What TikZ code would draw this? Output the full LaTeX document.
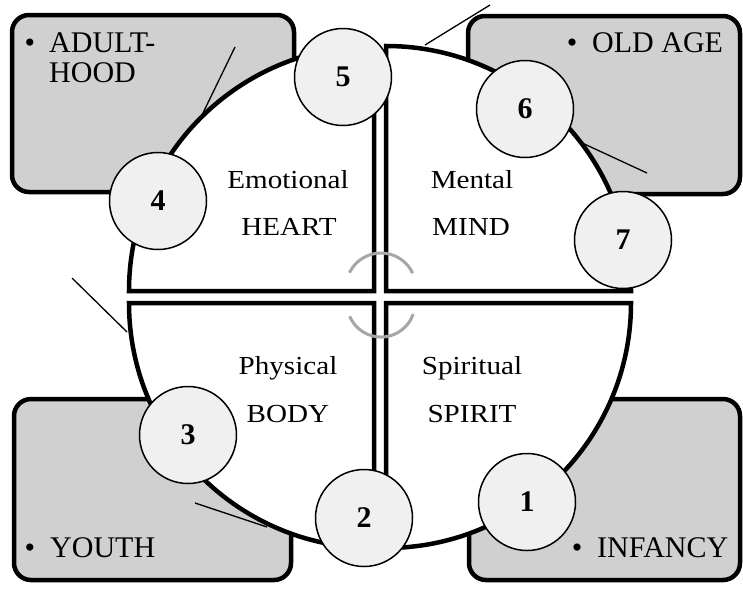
\documentclass[tikz,border=0pt]{standalone}
\usepackage{fontspec}
\setmainfont{Liberation Serif}
\newfontfamily\innerfont[FakeStretch=1.12]{Liberation Serif}
\definecolor{boxgray}{RGB}{208,208,208}
\definecolor{numfill}{RGB}{240,240,240}
\definecolor{arcgray}{RGB}{166,166,166}
\begin{document}
\begin{tikzpicture}[x=1pt,y=1pt,
  agebox/.style={draw=black, line width=4.5pt, fill=boxgray, rounded corners=17pt, inner sep=0pt},
  quad/.style={draw=black, line width=4.5pt, fill=white},
  num/.style={circle, draw=black, line width=1.5pt, fill=numfill, minimum size=97pt, inner sep=0pt, font=\bfseries\fontsize{30}{30}\selectfont},
  boxtext/.style={anchor=base west, inner sep=0pt, font=\fontsize{30}{30}\selectfont},
  bul/.style={anchor=base, inner sep=0pt, font=\fontsize{30}{30}\selectfont},
  quadtext/.style={anchor=base, inner sep=0pt, font=\innerfont\fontsize{26}{26}\selectfont},
  thinline/.style={draw=black, line width=1.3pt},
  turn/.style={draw=arcgray, line width=3pt}]

\useasboundingbox (0,0) rectangle (743,-590);
\fill[white] (0,0) rectangle (743,-590);

% corner boxes
\node[agebox, minimum width=282pt, minimum height=177pt] (boxTL) at (153,-103.5) {};
\node[agebox, minimum width=272pt, minimum height=178pt] (boxTR) at (604,-105) {};
\node[agebox, minimum width=277pt, minimum height=181pt] (boxBL) at (152.5,-489.5) {};
\node[agebox, minimum width=271pt, minimum height=181pt] (boxBR) at (604.5,-489.5) {};

% thin lines
\coordinate (la1) at (235,-47);  \coordinate (la2) at (203,-113);
\coordinate (lb1) at (490,-5);   \coordinate (lb2) at (425,-45);
\coordinate (lc1) at (580,-142); \coordinate (lc2) at (647,-173);
\coordinate (ld1) at (72,-278);  \coordinate (ld2) at (127,-332);
\coordinate (le1) at (195,-503); \coordinate (le2) at (267,-527);
\draw[thinline] (la1) -- (la2);
\draw[thinline] (lb1) -- (lb2);
\draw[thinline] (lc1) -- (lc2);
\draw[thinline] (ld1) -- (ld2);
\draw[thinline] (le1) -- (le2);

% quadrants
\draw[quad] (374,-291) -- (129,-291) arc[start angle=180, end angle=90, radius=245] -- cycle;
\draw[quad] (386,-291) -- (386,-46) arc[start angle=90, end angle=0, radius=245] -- cycle;
\draw[quad] (374,-303) -- (374,-548) arc[start angle=270, end angle=180, radius=245] -- cycle;
\draw[quad] (386,-303) -- (631,-303) arc[start angle=0, end angle=-90, radius=245] -- cycle;

% centre turning arcs
\draw[turn] (349.5,-272.7) arc[start angle=154, end angle=25, radius=35];
\draw[turn] (349.7,-316.3) arc[start angle=203, end angle=341, radius=34];

% quadrant labels
\node[quadtext] (emo) at (288,-188) {Emotional};
\node[quadtext] (heart) at (289,-235) {HEART};
\node[quadtext] (men) at (472,-188) {Mental};
\node[quadtext] (mind) at (471,-235) {MIND};
\node[quadtext] (phy) at (288,-374) {Physical};
\node[quadtext] (body) at (288,-422) {BODY};
\node[quadtext] (spi) at (472,-374) {Spiritual};
\node[quadtext] (spirit) at (472,-422) {SPIRIT};

% box labels
\node[bul] (bTL) at (30,-52) {•};
\node[boxtext] (adult) at (49,-52) {ADULT-};
\node[boxtext] (hood) at (49,-82) {HOOD};
\node[bul] (bTR) at (572,-52) {•};
\node[boxtext] (old) at (592,-52) {OLD AGE};
\node[bul] (bBL) at (30,-557) {•};
\node[boxtext] (youth) at (50,-557) {YOUTH};
\node[bul] (bBR) at (577,-557) {•};
\node[boxtext] (inf) at (597,-557) {INFANCY};

% numbered circles
\node[num] (n1) at (527,-502) {1};
\node[num] (n2) at (364,-518) {2};
\node[num] (n3) at (188,-435) {3};
\node[num] (n4) at (158,-201) {4};
\node[num] (n5) at (343,-77) {5};
\node[num] (n6) at (525,-109) {6};
\node[num] (n7) at (623,-240) {7};
\end{tikzpicture}
\end{document}
